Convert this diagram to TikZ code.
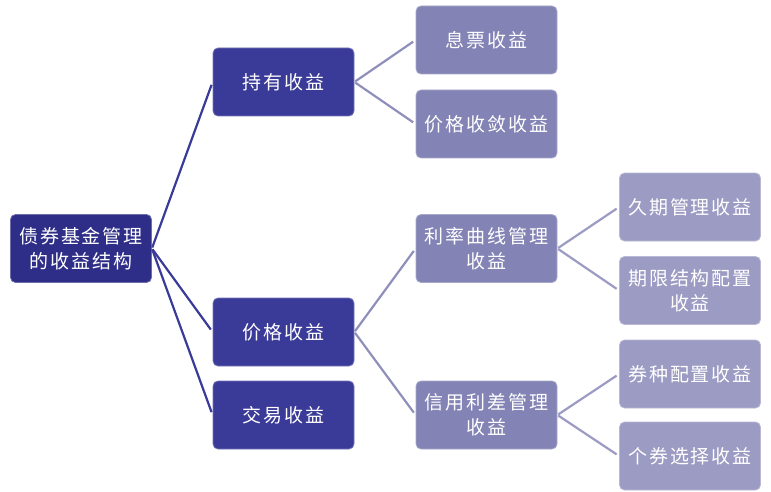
\documentclass[tikz,border=0pt]{standalone}
\usepackage{fontspec}
\usepackage{xcolor}
\usepackage{tikz}
\usetikzlibrary{positioning}
\newfontfamily\cjk[LetterSpace=10]{Noto Sans CJK SC}

\definecolor{rootblue}{HTML}{2E2E88}
\definecolor{topblue}{HTML}{3A3A98}
\definecolor{midblue}{HTML}{8383B5}
\definecolor{lowblue}{HTML}{9B9BC3}

\tikzset{
	box/.style={rectangle,rounded corners=5pt,minimum width=141pt,minimum height=68pt,
		inner sep=0pt,align=center,text=white,font=\cjk\fontsize{19}{25}\selectfont,
		draw=#1!70!white,fill=#1,line width=0.8pt},
	link/.style={line width=2.2pt,draw=#1,shorten <=1pt,shorten >=3pt}
}

\begin{document}
\begin{tikzpicture}[x=1pt,y=-1pt]
	\useasboundingbox (0,0) rectangle (771,492);
	\node[box=rootblue] (root) at (81,248.5) {债券基金管理\\的收益结构};
	
	\node[box=topblue] (hold) at (283.5,82) {持有收益};
	\node[box=topblue] (price) at (283.5,332) {价格收益};
	\node[box=topblue] (trade) at (283.5,415) {交易收益};
	
	\node[box=midblue] (coupon) at (486.5,40) {息票收益};
	\node[box=midblue] (conv) at (486.5,124) {价格收敛收益};
	\node[box=midblue] (curve) at (486.5,248.5) {利率曲线管理\\收益};
	\node[box=midblue] (credit) at (486.5,415) {信用利差管理\\收益};
	
	\node[box=lowblue] (dur) at (690,207) {久期管理收益};
	\node[box=lowblue] (term) at (690,290.5) {期限结构配置\\收益};
	\node[box=lowblue] (kind) at (690,374) {券种配置收益};
	\node[box=lowblue] (pick) at (690,456) {个券选择收益};
	
	\draw[link=topblue] (root.east) -- (hold.west);
	\draw[link=topblue] (root.east) -- (price.west);
	\draw[link=topblue] (root.east) -- (trade.west);
	
	\draw[link=midblue!90!white] (hold.east) -- (coupon.west);
	\draw[link=midblue!90!white] (hold.east) -- (conv.west);
	\draw[link=midblue!90!white] (price.east) -- (curve.west);
	\draw[link=midblue!90!white] (price.east) -- (credit.west);
	
	\draw[link=lowblue] (curve.east) -- (dur.west);
	\draw[link=lowblue] (curve.east) -- (term.west);
	\draw[link=lowblue] (credit.east) -- (kind.west);
	\draw[link=lowblue] (credit.east) -- (pick.west);
\end{tikzpicture}
\end{document}
